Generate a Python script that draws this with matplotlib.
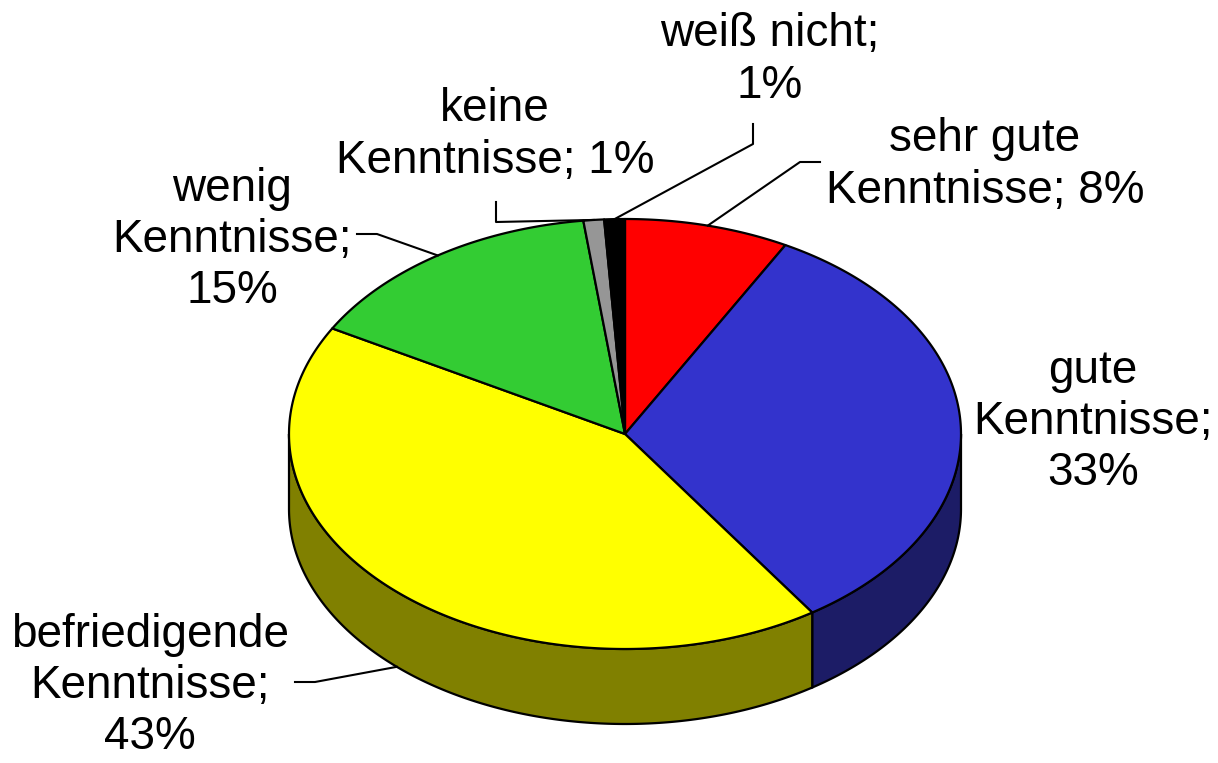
import matplotlib
matplotlib.use("Agg")
import matplotlib.pyplot as plt
from matplotlib.patches import Polygon
import numpy as np

# data, clockwise from 12 o'clock
labels = ["sehr gute\nKenntnisse; 8%", "gute\nKenntnisse;\n33%",
          "befriedigende\nKenntnisse;\n43%", "wenig\nKenntnisse;\n15%",
          "keine\nKenntnisse; 1%", "weiß nicht;\n1%"]
values = [8, 33, 43, 15, 1, 1]
top_colors = ["#FF0000", "#3333CC", "#FFFF00", "#33CC33", "#969696", "#000000"]
side_colors = ["#800000", "#1C1C66", "#808000", "#1A661A", "#4B4B4B", "#000000"]

# layout (pixels)
cx, cy, rx, ry, depth = 625, 434, 336, 215, 75
label_xy = [(985, 165), (1093, 422), (150, 686), (232, 240), (495, 135), (770, 60)]
# leader lines: label-side end points (knee, end), None = no line
leaders = [[(820, 162), (800, 162)], None, [(295, 682), (315, 682)],
           [(357, 234), (377, 234)], [(496, 202), (496, 222)],
           [(753, 124), (753, 144)]]

plt.rcParams['font.family'] = ['Liberation Sans', 'DejaVu Sans']
fig = plt.figure(figsize=(12.18, 7.63), dpi=100)
ax = fig.add_axes([0, 0, 1, 1])
ax.set_xlim(0, 1218)
ax.set_ylim(763, 0)
ax.axis("off")


def pt(th, dy=0):
    return cx + rx * np.sin(th), cy - ry * np.cos(th) + dy


fr = np.array(values, float) / sum(values)
edges = np.concatenate([[0], np.cumsum(fr)]) * 2 * np.pi

# side faces (only front half, pi/2 .. 3pi/2 visible)
for i in range(len(values)):
    a, b = max(edges[i], np.pi / 2), min(edges[i + 1], 3 * np.pi / 2)
    if b <= a:
        continue
    t = np.linspace(a, b, 200)
    xs, ys = pt(t)
    xb, yb = pt(t[::-1], depth)
    poly = np.column_stack([np.concatenate([xs, xb]), np.concatenate([ys, yb])])
    ax.add_patch(Polygon(poly, closed=True, fc=side_colors[i], ec="black", lw=1.6, zorder=1))

# top faces
for i in range(len(values)):
    t = np.linspace(edges[i], edges[i + 1], 300)
    xs, ys = pt(t)
    poly = np.column_stack([np.concatenate([[cx], xs]), np.concatenate([[cy], ys])])
    ax.add_patch(Polygon(poly, closed=True, fc=top_colors[i], ec="black", lw=1.6,
                         joinstyle="round", zorder=2))

# labels and leader lines
for i, lab in enumerate(labels):
    x, y = label_xy[i]
    ax.text(x, y, lab, ha="center", va="center", fontsize=33, linespacing=1.22, zorder=4)
    if leaders[i] is not None:
        mid = (edges[i] + edges[i + 1]) / 2
        ax_, ay_ = pt(mid, depth if np.cos(mid) < 0 else 0)
        (x0, y0), (x1, y1) = leaders[i]
        ax.plot([x0, x1, ax_], [y0, y1, ay_], color="black", lw=1.5, zorder=3)

fig.savefig("out.png", dpi=100)
